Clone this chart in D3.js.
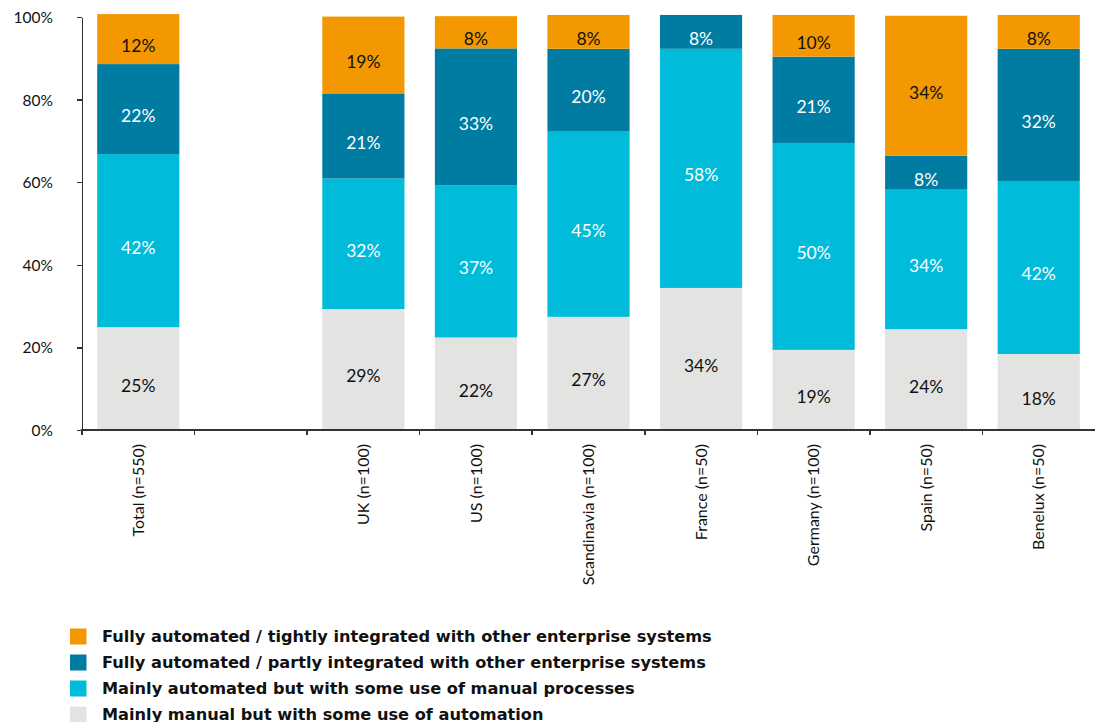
<!DOCTYPE html>
<html>
<head>
<meta charset="UTF-8" />
<style>
    body { margin: 0; padding: 0; background: #fff; font-family: Lato, sans-serif; color: #111; }
    .axis path, .axis line { stroke: #333; stroke-width: 1.5px; shape-rendering: crispEdges; }
</style>
<title>Automation</title>
</head>
<body>
<svg width="1095" height="722"></svg>
<script src="https://d3js.org/d3.v7.min.js"></script>
<script>
    // categories (the blank one is the gap after Total)
    const categories = ["Total (n=550)", "", "UK (n=100)", "US (n=100)", "Scandinavia (n=100)",
        "France (n=50)", "Germany (n=100)", "Spain (n=50)", "Benelux (n=50)"];

    // series, bottom to top
    const seriesNames = [
        "Mainly manual but with some use of automation",
        "Mainly automated but with some use of manual processes",
        "Fully automated / partly integrated with other enterprise systems",
        "Fully automated / tightly integrated with other enterprise systems"
    ];
    const manual     = [24.9, 0, 29.3, 22.4, 27.4, 34.4, 19.4, 24.4, 18.4];
    const mainlyAuto = [41.9, 0, 31.6, 36.8, 45.0, 57.9, 50.1, 33.8, 41.9];
    const partlyInt  = [21.8, 0, 20.6, 33.2, 19.9, 8.2, 20.9, 8.2, 32.0];
    const tightlyInt = [12.1, 0, 18.6, 7.8, 8.2, 0, 10.1, 33.9, 8.2];
    const yTicks = [0, 20, 40, 60, 80, 100];

    const colors = ["#e3e3e2", "#00bbd9", "#007ba1", "#f39800"];
    const labelColors = ["#111", "#fff", "#fff", "#111"];

    const svg = d3.select("svg");
    const margin = { left: 82, right: 0, top: 17, bottom: 292 };
    const width = 1095 - margin.left - margin.right,
        height = 722 - margin.top - margin.bottom;
    const g = svg.append("g").attr("transform", `translate(${margin.left},${margin.top})`);

    const rows = categories.map((c, i) => ({
        idx: i, cat: c, s0: manual[i], s1: mainlyAuto[i], s2: partlyInt[i], s3: tightlyInt[i]
    }));
    const stack = d3.stack().keys(["s0", "s1", "s2", "s3"])(rows);

    const x = d3.scaleBand().domain(d3.range(categories.length)).range([0, width])
        .paddingInner(0.27).paddingOuter(0.135);
    const y = d3.scaleLinear().domain([0, 100]).range([height, 0]);

    // bars + value labels
    stack.forEach((s, k) => {
        const segs = s.filter(d => d[1] - d[0] > 0);
        g.append("g").selectAll("rect").data(segs).enter().append("rect")
            .attr("fill", colors[k])
            .attr("x", d => x(d.data.idx))
            .attr("width", x.bandwidth())
            .attr("y", d => y(d[1]))
            .attr("height", d => y(d[0]) - y(d[1]));
        g.append("g").selectAll("text").data(segs).enter().append("text")
            .attr("x", d => x(d.data.idx) + x.bandwidth() / 2)
            .attr("y", d => (y(d[0]) + y(d[1])) / 2 + 13)
            .attr("text-anchor", "middle")
            .attr("font-size", "17.5px")
            .attr("fill", labelColors[k])
            .text(d => Math.round(d[1] - d[0]) + "%");
    });

    // y axis
    const yAxis = g.append("g").attr("class", "axis")
        .call(d3.axisLeft(y).tickValues(yTicks).tickSize(5).tickSizeOuter(0).tickFormat(d => d + "%"));
    yAxis.selectAll("text").attr("font-size", "15.5px").attr("font-family", "Lato, sans-serif")
        .attr("fill", "#111").attr("x", -29).attr("dy", "0.35em");

    // x axis
    const xa = g.append("g").attr("class", "axis").attr("transform", `translate(0,${height})`);
    xa.append("line").attr("x1", -1).attr("x2", width).attr("y1", 0).attr("y2", 0);
    const step = x.step();
    xa.selectAll(".tk").data(d3.range(categories.length)).enter().append("line")
        .attr("x1", i => i * step).attr("x2", i => i * step)
        .attr("y1", 0).attr("y2", 5);
    xa.selectAll(".cl").data(categories).enter().append("text")
        .attr("transform", (d, i) => `translate(${x(i) + x.bandwidth() / 2},14) rotate(-90)`)
        .attr("text-anchor", "end")
        .attr("dy", "0.35em")
        .attr("font-size", "16px")
        .attr("fill", "#111")
        .text(d => d);

    // legend (top item is the top series)
    const legend = svg.append("g").attr("transform", "translate(70,628.5)");
    const order = [3, 2, 1, 0];
    const li = legend.selectAll(".li").data(order).enter().append("g")
        .attr("transform", (d, i) => `translate(0,${i * 26})`);
    li.append("rect").attr("width", 16.5).attr("height", 16).attr("fill", d => colors[d]);
    li.append("text").attr("x", 32).attr("y", 13)
        .attr("font-family", "'DejaVu Sans', sans-serif")
        .attr("font-size", "16.2px").attr("font-weight", "bold").attr("fill", "#111")
        .text(d => seriesNames[d]);
</script>
</body>
</html>
